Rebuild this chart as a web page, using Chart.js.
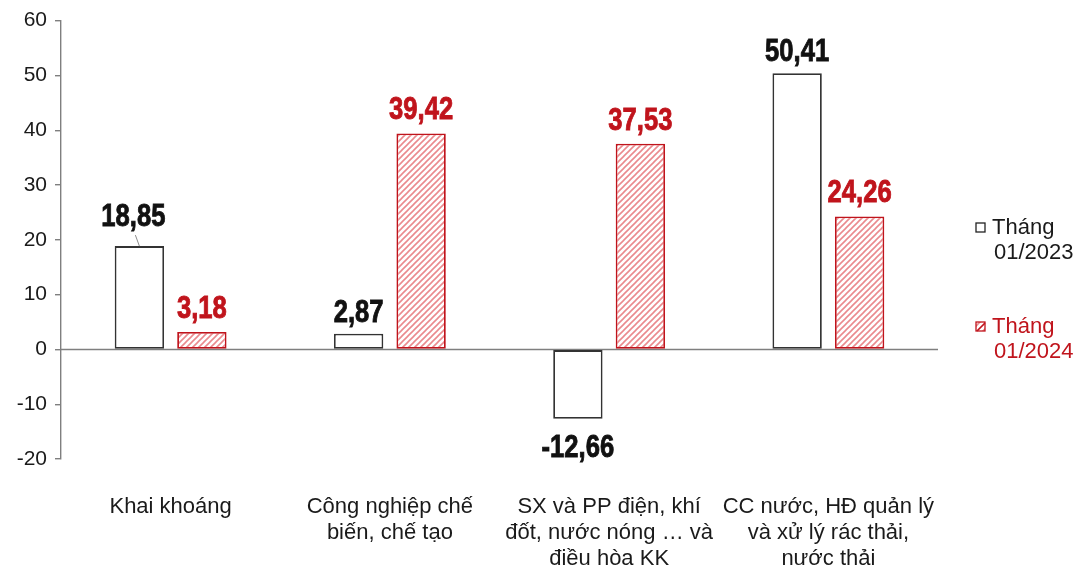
<!DOCTYPE html>
<html lang="vi">
<head>
<meta charset="utf-8">
<title>Tăng trưởng theo ngành</title>
<script src="https://cdn.jsdelivr.net/npm/chart.js@4.4.1/dist/chart.umd.min.js"></script>
<style>
  html, body { margin: 0; padding: 0; background: #ffffff; }
  #wrap { position: relative; width: 1077px; height: 572px; }
</style>
</head>
<body>
<div id="wrap"><canvas id="chart" width="1077" height="572"></canvas></div>
<script>
// Ngành kinh tế (nhãn trục hoành, mỗi phần tử là các dòng của nhãn)
const categories = [
  ['Khai khoáng'],
  ['Công nghiệp chế', 'biến, chế tạo'],
  ['SX và PP điện, khí', 'đốt, nước nóng … và', 'điều hòa KK'],
  ['CC nước, HĐ quản lý', 'và xử lý rác thải,', 'nước thải']
];
const series2023 = [18.85, 2.87, -12.66, 50.41];
const series2024 = [3.18, 39.42, 37.53, 24.26];
const seriesNames = [['Tháng', '01/2023'], ['Tháng', '01/2024']];
const yMin = -20, yMax = 60, yStep = 10;

const RED = '#c0141c';
const RED_LIGHT = '#ea8a8e';
const DARK = '#333333';
const AXIS = '#7f7f7f';

// Diagonal hatch fill for the 2024 series
function hatchPattern() {
  const c = document.createElement('canvas');
  const s = 6;
  c.width = s; c.height = s;
  const g = c.getContext('2d');
  g.fillStyle = '#ffffff';
  g.fillRect(0, 0, s, s);
  g.strokeStyle = RED_LIGHT;
  g.lineWidth = 1.6;
  g.beginPath();
  g.moveTo(-1, s + 1); g.lineTo(s + 1, -1);
  g.moveTo(-1, 1); g.lineTo(1, -1);
  g.moveTo(s - 1, s + 1); g.lineTo(s + 1, s - 1);
  g.stroke();
  return g.createPattern(c, 'repeat');
}

const fmt = v => v.toFixed(2).replace('.', ',');

// Value labels in a condensed bold face, plus a leader line where a label is lifted
const valueLabels = {
  id: 'valueLabels',
  afterDatasetsDraw(chart) {
    const ctx = chart.ctx;
    chart.data.datasets.forEach((ds, di) => {
      const meta = chart.getDatasetMeta(di);
      meta.data.forEach((bar, i) => {
        const v = ds.data[i];
        const txt = fmt(v);
        let x = bar.x;
        let y;
        const lifted = (di === 0 && i === 0);
        if (v >= 0) {
          y = bar.y - (di === 1 ? 14 : 12);
          if (lifted) { y = bar.y - 20; x = bar.x - 6; }
        } else {
          y = bar.y + 14 + 24;
        }
        if (lifted) {
          ctx.save();
          ctx.strokeStyle = '#8c8c8c';
          ctx.lineWidth = 1;
          ctx.beginPath();
          ctx.moveTo(bar.x - 4, y + 9);
          ctx.lineTo(bar.x, bar.y);
          ctx.stroke();
          ctx.restore();
        }
        const color = di === 0 ? '#111111' : RED;
        ctx.save();
        ctx.translate(x, y);
        ctx.scale(0.8, 1);
        ctx.font = 'bold 32px "Liberation Sans Narrow", "Liberation Sans", Arial, sans-serif';
        ctx.fillStyle = color;
        ctx.strokeStyle = color;
        ctx.lineWidth = 0.9;
        ctx.textAlign = 'center';
        ctx.textBaseline = 'alphabetic';
        ctx.fillText(txt, 0, 0);
        ctx.strokeText(txt, 0, 0);
        ctx.restore();
      });
    });
  }
};

// Two-line legend on the right
const sideLegend = {
  id: 'sideLegend',
  afterDraw(chart) {
    const ctx = chart.ctx;
    const boxX = 976, textX = 992;
    const tops = [228, 327];
    chart.data.datasets.forEach((ds, di) => {
      const cy = tops[di];
      ctx.save();
      ctx.fillStyle = di === 0 ? '#ffffff' : ds.backgroundColor;
      ctx.fillRect(boxX, cy - 5, 9, 9);
      ctx.strokeStyle = di === 0 ? '#222222' : RED;
      ctx.lineWidth = 1.3;
      ctx.strokeRect(boxX, cy - 5, 9, 9);
      if (di === 1) {
        ctx.beginPath();
        ctx.moveTo(boxX + 1, cy + 4);
        ctx.lineTo(boxX + 9, cy - 4);
        ctx.stroke();
      }
      ctx.font = '22px "Liberation Sans", Arial, sans-serif';
      ctx.fillStyle = di === 0 ? '#1a1a1a' : RED;
      ctx.textBaseline = 'middle';
      ctx.textAlign = 'left';
      ctx.fillText(seriesNames[di][0], textX, cy);
      ctx.fillText(seriesNames[di][1], textX + 2, cy + 25);
      ctx.restore();
    });
  }
};

// Horizontal line at zero across the plot area
const zeroLine = {
  id: 'zeroLine',
  beforeDatasetsDraw(chart) {
    const { ctx, chartArea, scales } = chart;
    const y0 = Math.round(scales.y.getPixelForValue(0)) + 0.5;
    ctx.save();
    ctx.strokeStyle = AXIS;
    ctx.lineWidth = 1.4;
    ctx.beginPath();
    ctx.moveTo(chartArea.left, y0);
    ctx.lineTo(chartArea.right, y0);
    ctx.stroke();
    ctx.restore();
  }
};

const ctx = document.getElementById('chart').getContext('2d');
new Chart(ctx, {
  type: 'bar',
  data: {
    labels: categories,
    datasets: [
      {
        label: seriesNames[0].join(' '),
        data: series2023,
        backgroundColor: '#ffffff',
        borderColor: DARK,
        borderWidth: 1.8,
        borderSkipped: false
      },
      {
        label: seriesNames[1].join(' '),
        data: series2024,
        backgroundColor: hatchPattern(),
        borderColor: RED,
        borderWidth: 1.8,
        borderSkipped: false
      }
    ]
  },
  options: {
    responsive: false,
    animation: false,
    devicePixelRatio: 1,
    categoryPercentage: 0.57,
    barPercentage: 0.79,
    layout: { padding: { top: 17, right: 139, bottom: 0, left: 0 } },
    plugins: {
      legend: { display: false },
      tooltip: { enabled: false }
    },
    scales: {
      x: {
        grid: { display: false, drawTicks: false },
        border: { display: false },
        ticks: {
          color: '#1a1a1a',
          font: { family: '"Liberation Sans", Arial, sans-serif', size: 22, lineHeight: 1.18 },
          padding: 35,
          maxRotation: 0,
          autoSkip: false
        },
        afterFit(scale) { scale.height = 113; }
      },
      y: {
        min: yMin,
        max: yMax,
        ticks: {
          stepSize: yStep,
          color: '#1a1a1a',
          font: { family: '"Liberation Sans", Arial, sans-serif', size: 21 },
          padding: 8
        },
        grid: {
          drawOnChartArea: false,
          drawTicks: true,
          tickLength: 6,
          color: AXIS,
          lineWidth: 1.4
        },
        border: { display: true, color: AXIS, width: 1.4 },
        afterFit(scale) { scale.width = 61; }
      }
    }
  },
  plugins: [zeroLine, valueLabels, sideLegend]
});
</script>
</body>
</html>
